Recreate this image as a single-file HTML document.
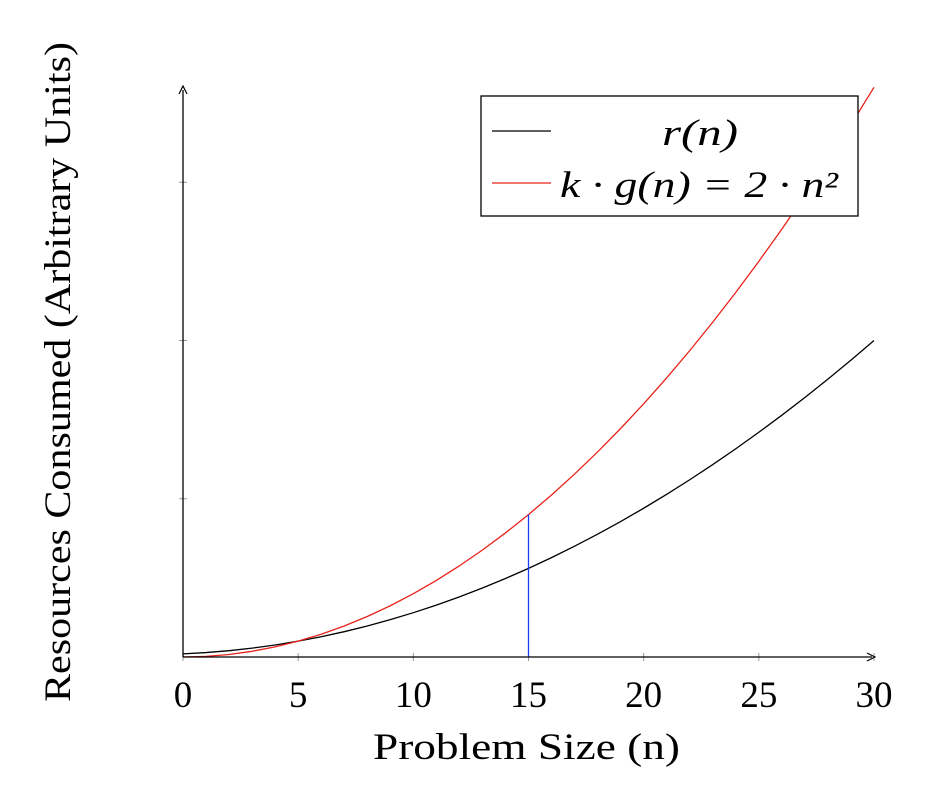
<!DOCTYPE html>
<html><head><meta charset="utf-8"><style>
body{margin:0;background:#fff}
svg{display:block}
text{font-family:"Liberation Serif",serif;fill:#000}
</style></head><body>
<svg id="c" width="928" height="790"></svg>
<script>
const xs=[0,1,2,3,4,5,6,7,8,9,10,11,12,13,14,15,16,17,18,19,20,21,22,23,24,25,26,27,28,29,30];
const rVals=[10,14,20,28,38,50,64,80,98,118,140,164,190,218,248,280,314,350,388,428,470,514,560,608,658,710,764,820,878,938,1000];
const gVals=[0,2,8,18,32,50,72,98,128,162,200,242,288,338,392,450,512,578,648,722,800,882,968,1058,1152,1250,1352,1458,1568,1682,1800];
const xTicks=[0,5,10,15,20,25,30];
const yTicks=[500,1000,1500];
const markerX=15;
const seriesNames=["r(n)","k · g(n) = 2 · n²"];

const NS="http://www.w3.org/2000/svg";
const svg=document.getElementById('c');
const X=v=>183+v*(874-183)/30;
const Y=v=>657-v*0.3165;
function el(t,a,p){const e=document.createElementNS(NS,t);for(const k in a)e.setAttribute(k,a[k]);(p||svg).appendChild(e);return e;}

xTicks.forEach(t=>{
  const l=el('line',{x1:X(t),x2:X(t),y1:653,y2:661,stroke:'#999','stroke-width':1});
  
  
  const tx=el('text',{x:X(t),y:707,'text-anchor':'middle','font-size':37});
  tx.textContent=t;
  
  
});
yTicks.forEach(t=>{
  const l=el('line',{x1:179,x2:187,y1:Y(t),y2:Y(t),stroke:'#999','stroke-width':1});
  
  
});

function path(vals,color,name){
  const d=xs.map((x,i)=>(i?'L':'M')+X(x).toFixed(2)+','+Y(vals[i]).toFixed(2)).join('');
  const p=el('path',{d:d,fill:'none',stroke:color,'stroke-width':1.3});
  
  
}
path(rVals,'#000','series-r-n');
path(gVals,'#e8221a','series-k-g-n');
const mi=xs.indexOf(markerX);
const ml=el('line',{x1:X(markerX),x2:X(markerX),y1:Y(0),y2:Y(gVals[mi]),stroke:'#1a3cff','stroke-width':1.3});



const ax=el('path',{d:'M183,657H872M183,657V90',stroke:'#000','stroke-width':1.3,fill:'none'});


el('path',{d:'M867,653L875,657L867,661',stroke:'#000',fill:'none','stroke-width':1.2});
el('path',{d:'M179,94L183,86L187,94',stroke:'#000',fill:'none','stroke-width':1.2});

const xt=el('text',{x:373,y:759,'font-size':37,textLength:307,lengthAdjust:'spacingAndGlyphs'});
xt.textContent='Problem Size (n)';


const yt=el('text',{x:0,y:0,'font-size':37,textLength:660,lengthAdjust:'spacingAndGlyphs',transform:'translate(70,702) rotate(-90)'});
yt.textContent='Resources Consumed (Arbitrary Units)';



const lg=el('g',{});


el('rect',{x:481,y:96,width:377,height:120,fill:'#fff',stroke:'#000','stroke-width':1.3},lg);
const e1=el('g',{},lg);


el('line',{x1:492,x2:551,y1:131,y2:131,stroke:'#000','stroke-width':1.3},e1);
const t1=el('text',{x:662,y:145,'font-size':37,'font-style':'italic',textLength:76,lengthAdjust:'spacingAndGlyphs'},e1);
t1.textContent=seriesNames[0];
const e2=el('g',{},lg);


el('line',{x1:492,x2:551,y1:183,y2:183,stroke:'#e8221a','stroke-width':1.3},e2);
const t2=el('text',{x:560,y:197,'font-size':37,'font-style':'italic',textLength:278,lengthAdjust:'spacingAndGlyphs'},e2);
t2.textContent=seriesNames[1];
</script>
</body></html>
